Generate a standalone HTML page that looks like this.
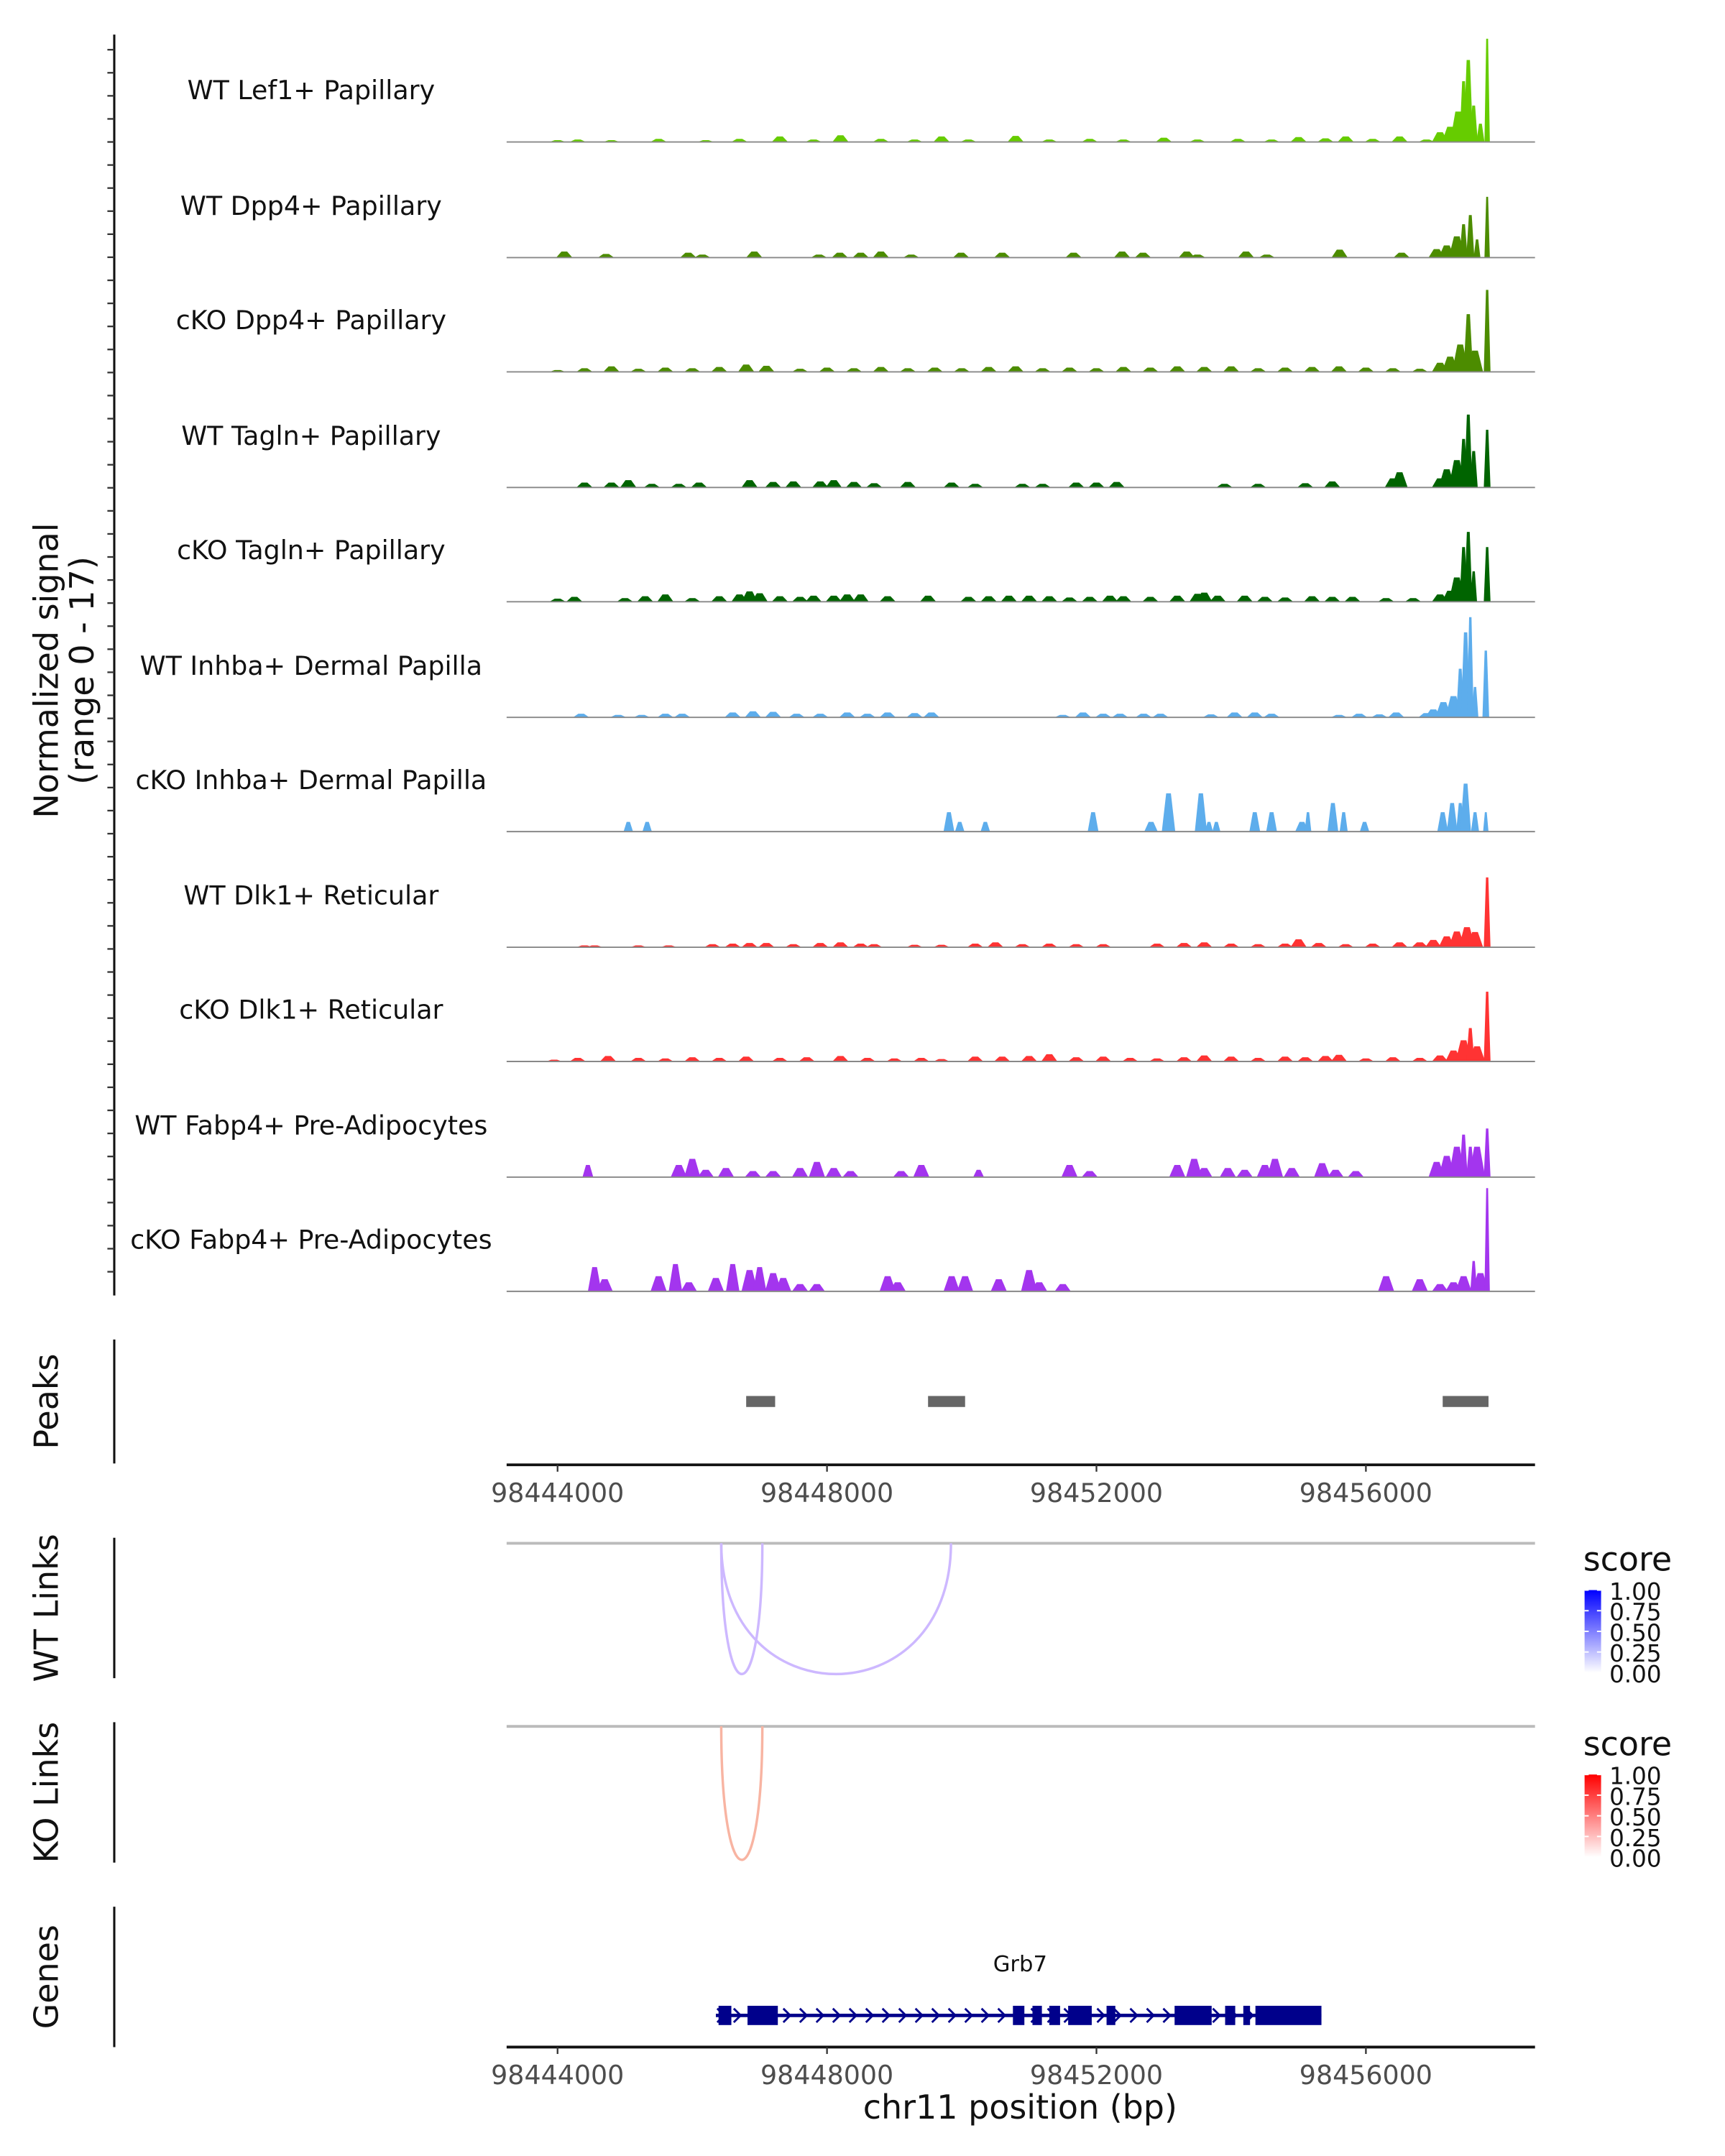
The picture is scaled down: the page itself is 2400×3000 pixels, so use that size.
<!DOCTYPE html>
<html><head><meta charset="utf-8"><style>
html,body{margin:0;padding:0;background:#fff}
svg{display:block}
text{font-family:"DejaVu Sans","Liberation Sans",sans-serif}
</style></head><body>
<svg id="chart" xmlns="http://www.w3.org/2000/svg" width="2400" height="3000" viewBox="0 0 1253 1566">
<g id="g-axis"></g>
<g id="g-tracks"></g>
<g id="g-peaks"></g>
<g id="g-links"></g>
<g id="g-genes"></g>
<text transform="translate(42,487) rotate(-90)" text-anchor="middle" font-size="24" fill="#111">Normalized signal</text>
<text transform="translate(68,487) rotate(-90)" text-anchor="middle" font-size="24" fill="#111">(range 0 - 17)</text>
<text x="741" y="1539" text-anchor="middle" font-size="24" fill="#111">chr11 position (bp)</text>
</svg>
<script>
const NS="http://www.w3.org/2000/svg";
const trackNames=["WT Lef1+ Papillary","WT Dpp4+ Papillary","cKO Dpp4+ Papillary","WT Tagln+ Papillary","cKO Tagln+ Papillary","WT Inhba+ Dermal Papilla","cKO Inhba+ Dermal Papilla","WT Dlk1+ Reticular","cKO Dlk1+ Reticular","WT Fabp4+ Pre-Adipocytes","cKO Fabp4+ Pre-Adipocytes"];
const trackColors=["#66CC00","#4C8C00","#4C8C00","#006400","#006400","#5DADEC","#5DADEC","#FF3333","#FF3333","#A335EE","#A335EE"];
// signal arrays: [kb offset from 98444000, value (0-17), optional half-width kb]
const sigLef1=[[0,0.3],[0.3,0.4],[0.8,0.3],[1.5,0.5],[2.2,0.3],[2.7,0.5],[3.3,0.9],[3.8,0.4],[4.2,1.1],[4.8,0.5],[5.3,0.4],[5.7,0.9],[6.1,0.4],[6.8,1.0],[7.3,0.4],[7.9,0.5],[8.4,0.4],[9.0,0.7],[9.5,0.4],[10.1,0.5],[10.6,0.4],[11.0,0.8],[11.4,0.6],[11.7,0.9],[12.1,0.5],[12.5,0.9],[12.9,0.4],[13.1,1.6],[13.25,2.5],[13.37,5],[13.45,10,0.06],[13.52,13.5,0.07],[13.6,6,0.06],[13.7,3,0.06],[13.8,17,0.04]];
const sigDpp4WT=[[0.1,1.0],[0.72,0.6],[1.94,0.8],[2.15,0.5],[2.92,1.0],[3.88,0.5],[4.19,0.8],[4.5,0.8],[4.8,1.0],[5.25,0.5],[5.99,0.8],[6.6,0.8],[7.66,0.8],[8.38,1.0],[8.69,0.8],[9.34,1.0],[9.5,0.5],[10.22,1.0],[10.53,0.5],[11.61,1.3],[12.53,0.8],[13.05,1.4],[13.2,2.0],[13.35,3.5],[13.45,5.5,0.06],[13.55,7,0.06],[13.65,3,0.05],[13.8,10,0.04]];
const sigDpp4KO=[[0.0,0.3],[0.4,0.6],[0.8,0.9],[1.2,0.5],[1.6,0.7],[2.0,0.6],[2.4,0.8],[2.8,1.2],[3.1,1.0],[3.6,0.5],[4.0,0.7],[4.4,0.6],[4.8,0.8],[5.2,0.6],[5.6,0.7],[6.0,0.6],[6.4,0.8],[6.8,0.9],[7.2,0.6],[7.6,0.7],[8.0,0.6],[8.4,0.8],[8.8,0.7],[9.2,0.9],[9.6,0.8],[10.0,0.9],[10.4,0.6],[10.8,0.7],[11.2,0.8],[11.6,0.9],[12.0,0.7],[12.4,0.6],[12.8,0.5],[13.1,1.5],[13.25,2.5],[13.4,4.5],[13.52,9.5,0.07],[13.62,3.5],[13.8,13.5,0.05]];
const sigTaglnWT=[[0.4,0.8],[0.8,0.8],[1.05,1.2],[1.4,0.6],[1.8,0.6],[2.1,0.8],[2.85,1.2],[3.2,0.9],[3.5,1.0],[3.9,1.0],[4.1,1.2],[4.4,0.9],[4.7,0.7],[5.2,0.9],[5.85,0.8],[6.2,0.6],[6.9,0.6],[7.2,0.6],[7.7,0.8],[8.0,0.8],[8.3,0.9],[9.9,0.6],[10.4,0.6],[11.1,0.7],[11.5,1.0],[12.4,1.5],[12.5,2.5],[13.1,1.5],[13.2,3.0],[13.35,4.5],[13.45,8,0.06],[13.52,12,0.06],[13.6,6,0.06],[13.8,9.5,0.05]];
const sigTaglnKO=[[0.0,0.5],[0.25,0.8],[1.0,0.6],[1.3,0.9],[1.6,1.2],[2.0,0.6],[2.4,0.9],[2.7,1.2],[2.85,1.7],[3.0,1.4],[3.3,0.9],[3.6,0.8],[3.8,1.0],[4.1,1.0],[4.3,1.2],[4.5,1.2],[4.9,0.9],[5.5,1.0],[6.1,0.8],[6.4,0.9],[6.7,1.0],[7.0,1.0],[7.3,0.9],[7.6,0.7],[7.9,0.8],[8.2,1.0],[8.4,0.9],[8.8,0.8],[9.2,1.0],[9.5,1.3],[9.6,1.5],[9.8,1.0],[10.2,1.0],[10.5,0.8],[10.8,0.7],[11.2,0.9],[11.5,0.8],[11.8,0.8],[12.3,0.6],[12.7,0.6],[13.1,1.2],[13.25,1.8],[13.35,4],[13.45,9,0.06],[13.52,11.5,0.06],[13.6,5,0.05],[13.8,9,0.05]];
const sigInhbaWT=[[0.35,0.6],[0.9,0.4],[1.25,0.4],[1.6,0.6],[1.85,0.6],[2.6,0.8],[2.9,1.0],[3.2,0.9],[3.55,0.6],[3.9,0.6],[4.3,0.8],[4.6,0.6],[4.9,0.8],[5.3,0.7],[5.55,0.8],[7.5,0.4],[7.8,0.8],[8.1,0.6],[8.35,0.6],[8.7,0.6],[8.95,0.6],[9.7,0.5],[10.05,0.8],[10.35,0.8],[10.6,0.6],[11.6,0.4],[11.9,0.6],[12.2,0.5],[12.45,0.8],[12.9,0.7],[13.0,1.3],[13.15,2.5],[13.3,3.5],[13.4,8,0.06],[13.48,14,0.07],[13.55,16.5,0.05],[13.62,5,0.05],[13.78,11,0.05]];
const sigInhbaKO=[[1.05,1.6,0.07],[1.33,1.6,0.07],[5.81,3.2,0.08],[5.97,1.6,0.07],[6.35,1.6,0.07],[7.95,3.2,0.08],[8.81,1.6,0.1],[9.07,6.3,0.1],[9.55,6.3,0.09],[9.67,1.6,0.06],[9.78,1.6,0.06],[10.35,3.2,0.08],[10.6,3.2,0.08],[11.05,1.6,0.1],[11.14,3.2,0.05],[11.51,4.7,0.08],[11.67,3.2,0.06],[11.98,1.6,0.07],[13.14,3.2,0.08],[13.28,4.7,0.08],[13.4,4.7,0.06],[13.48,7.9,0.08],[13.62,3.2,0.06],[13.78,3.2,0.04]];
const sigDlk1WT=[[0.4,0.3],[0.55,0.3],[1.2,0.3],[1.65,0.3],[2.3,0.5],[2.6,0.6],[2.85,0.7],[3.1,0.7],[3.5,0.5],[3.9,0.7],[4.2,0.8],[4.5,0.6],[4.7,0.5],[5.3,0.4],[5.7,0.4],[6.2,0.6],[6.5,0.8],[6.9,0.5],[7.3,0.6],[7.7,0.5],[8.1,0.5],[8.9,0.6],[9.3,0.7],[9.6,0.8],[10.0,0.6],[10.4,0.5],[10.8,0.6],[11.0,1.3],[11.3,0.7],[11.7,0.5],[12.1,0.6],[12.5,0.8],[12.8,0.8],[13.0,1.2],[13.2,1.8],[13.35,2.6],[13.5,3.3],[13.62,2.5],[13.8,11.5,0.05]];
const sigDlk1KO=[[-0.05,0.3],[0.3,0.6],[0.75,0.9],[1.2,0.6],[1.6,0.5],[2.0,0.7],[2.4,0.6],[2.8,0.8],[3.3,0.6],[3.7,0.7],[4.2,0.9],[4.6,0.6],[5.0,0.5],[5.4,0.6],[5.7,0.4],[6.2,0.8],[6.6,0.8],[7.0,0.9],[7.3,1.2],[7.7,0.7],[8.1,0.8],[8.5,0.6],[8.9,0.5],[9.3,0.7],[9.6,1.0],[10.0,0.8],[10.4,0.6],[10.8,0.8],[11.1,0.7],[11.4,0.9],[11.6,1.1],[12.0,0.5],[12.4,0.7],[12.8,0.6],[13.1,1.0],[13.3,1.8],[13.45,3.5],[13.55,5.5,0.06],[13.65,2.5],[13.8,11.5,0.05]];
const sigFabp4WT=[[0.45,2.0,0.08],[1.8,2.0],[2.0,3.0],[2.2,1.2],[2.5,1.5],[2.9,1.0],[3.2,1.0],[3.6,1.5],[3.85,2.5],[4.1,1.5],[4.35,1.0],[5.1,1.0],[5.4,2.0],[6.25,1.2,0.08],[7.6,2.0],[7.9,1.0],[9.2,2.0],[9.45,3.0],[9.6,1.5],[9.95,1.5],[10.2,1.2],[10.5,2.0],[10.65,3.0],[10.9,1.5],[11.35,2.3],[11.55,1.2],[11.85,1.0],[13.05,2.5],[13.2,3.5],[13.35,5],[13.45,7,0.06],[13.55,5,0.06],[13.65,5],[13.8,8,0.05]];
const sigFabp4KO=[[0.55,4,0.1],[0.7,2],[1.5,2.5],[1.75,4.5,0.1],[1.95,1.5],[2.35,2.2],[2.6,4.5,0.1],[2.85,3.5],[3.0,4,0.1],[3.2,3],[3.35,2.2],[3.6,1.2],[3.85,1.2],[4.9,2.5],[5.05,1.5],[5.85,2.5],[6.05,2.5],[6.55,2.0],[7.0,3.5],[7.15,1.5],[7.5,1.2],[12.3,2.5],[12.8,2.0],[13.1,1.2],[13.3,1.5],[13.45,2.5],[13.6,5,0.05],[13.7,3],[13.8,17,0.04]];
const trackData=[sigLef1,sigDpp4WT,sigDpp4KO,sigTaglnWT,sigTaglnKO,sigInhbaWT,sigInhbaKO,sigDlk1WT,sigDlk1KO,sigFabp4WT,sigFabp4KO];
const peakStarts=[2.80,5.50,13.14];
const peakEnds=[3.23,6.05,13.82];
const wtLinkStart=[2.43,2.43];
const wtLinkEnd=[3.04,5.84];
const koLinkStart=[2.43];
const koLinkEnd=[3.04];
const geneStart=2.35, geneEnd=11.34;
const exonStarts=[2.39,2.82,6.76,7.05,7.30,7.58,8.15,9.16,9.91,10.18,10.36];
const exonEnds=[2.58,3.27,6.93,7.19,7.46,7.93,8.28,9.71,10.06,10.28,11.34];
const tickValues=[98444000,98448000,98452000,98456000];

const BP0=98444000, PXPERKB=48.93, X0=405;
const xs=kb=>X0+kb*PXPERKB;
const xbp=bp=>xs((bp-BP0)/1000);
const YMAX=17, TH=75;
const baselines=[103,187,270,354,437,521,604,688,771,855,938];
function el(tag,attrs,parent){const e=document.createElementNS(NS,tag);for(const k in attrs)e.setAttribute(k,attrs[k]);parent.appendChild(e);return e;}

const gA=document.getElementById('g-axis');
let ax=el('line',{x1:83,y1:25,x2:83,y2:941,stroke:'#111','stroke-width':1.6},gA);

for(let y=36;y<=940;y+=16.75){const t=el('line',{x1:78,y1:y,x2:83,y2:y,stroke:'#333','stroke-width':1.2},gA);
}

const gT=document.getElementById('g-tracks');
trackNames.forEach((nm,i)=>{
  const g=el('g',{},gT);
  
  
  const b=baselines[i];
  trackData[i].forEach(p=>{
    const hw=p[2]||0.12, h=p[1]/YMAX*TH, c=xs(p[0]);
    const f=el('polygon',{points:`${c-hw*PXPERKB},${b} ${c-hw*PXPERKB*0.35},${b-h} ${c+hw*PXPERKB*0.35},${b-h} ${c+hw*PXPERKB},${b}`,fill:trackColors[i]},g);
    
  });
  const bl=el('line',{x1:368,y1:b,x2:1115,y2:b,stroke:'#888','stroke-width':1},g);
  
  const lb=el('text',{x:226,y:b-31,'text-anchor':'middle','font-size':19,fill:'#111'},g);
  lb.textContent=nm;
});

function xAxis(parent,y){
  const l=el('line',{x1:368,y1:y,x2:1115,y2:y,stroke:'#111','stroke-width':2},parent);
  
  tickValues.forEach(v=>{const x=xbp(v);
    const t=el('line',{x1:x,y1:y,x2:x,y2:y+5,stroke:'#333','stroke-width':1.2},parent);
    
    const tx=el('text',{x:x,y:y+27,'text-anchor':'middle','font-size':19,fill:'#4d4d4d'},parent);
    tx.textContent=v;});
}
function panelTitle(parent,txt,y0,y1,name){
  const l=el('line',{x1:83,y1:y0,x2:83,y2:y1,stroke:'#111','stroke-width':1.6},parent);
  
  const t=el('text',{transform:`translate(42,${(y0+y1)/2}) rotate(-90)`,'text-anchor':'middle','font-size':24,fill:'#111'},parent);
  t.textContent=txt;
}

const gP=document.getElementById('g-peaks');
panelTitle(gP,'Peaks',973,1063,'peaks');
peakStarts.forEach((s,i)=>{const r=el('rect',{x:xs(s),y:1014,width:xs(peakEnds[i])-xs(s),height:8,fill:'#666'},gP);
});
xAxis(gP,1064);

const gL=document.getElementById('g-links');
function linksPanel(title,y0,y1,top,bottom,starts,ends,col,cbTop,cbColor,name){
  const g=el('g',{},gL);
  panelTitle(g,title,y0,y1,name);
  const bl=el('line',{x1:368,y1:top,x2:1115,y2:top,stroke:'#bbb','stroke-width':2},g);
  
  starts.forEach((s,i)=>{const a=xs(s),b=xs(ends[i]);const cy=top+(bottom-top)/0.75;
    const p=el('path',{d:`M${a},${top} C${a},${cy} ${b},${cy} ${b},${top}`,fill:'none',stroke:col,'stroke-width':1.8},g);
    });
  const lt=el('text',{x:1150,y:cbTop-14,'font-size':24,fill:'#111'},g);lt.textContent='score';
  
  const gid='grad'+name;const d=el('defs',{},g);const lg=el('linearGradient',{id:gid,x1:0,y1:1,x2:0,y2:0},d);
  el('stop',{offset:0,'stop-color':'#fff'},lg);el('stop',{offset:1,'stop-color':cbColor},lg);
  const cb=el('rect',{x:1151,y:cbTop,width:12,height:60,fill:`url(#${gid})`},g);
  
  ['1.00','0.75','0.50','0.25','0.00'].forEach((v,k)=>{const yy=cbTop+k*15;
    el('line',{x1:1151,y1:yy,x2:1154,y2:yy,stroke:'#fff'},g);el('line',{x1:1160,y1:yy,x2:1163,y2:yy,stroke:'#fff'},g);
    const t=el('text',{x:1169,y:yy+7,'font-size':17,fill:'#111'},g);t.textContent=v;
    });
}
linksPanel('WT Links',1117,1219,1121,1216,wtLinkStart,wtLinkEnd,'#CDB8FF',1155,'#0000FF','wt-links');
linksPanel('KO Links',1251,1353,1254,1351,koLinkStart,koLinkEnd,'#F8B4A2',1289,'#FF0000','ko-links');

const gG=document.getElementById('g-genes');
panelTitle(gG,'Genes',1385,1487,'genes');
const gl=el('line',{x1:xs(geneStart),y1:1464,x2:xs(geneEnd),y2:1464,stroke:'#00008B','stroke-width':2.5},gG);

for(let x=xs(geneStart)+4;x<xs(geneEnd);x+=12){const c=el('path',{d:`M${x-3},${1459} L${x+2},${1464} L${x-3},${1469}`,fill:'none',stroke:'#00008B','stroke-width':1.5},gG);
}
exonStarts.forEach((s,i)=>{const r=el('rect',{x:xs(s),y:1457,width:xs(exonEnds[i])-xs(s),height:14,fill:'#00008B'},gG);
});
const gn=el('text',{x:741,y:1432,'text-anchor':'middle','font-size':16,fill:'#111'},gG);gn.textContent='Grb7';

xAxis(gG,1487);
</script>
</body></html>
